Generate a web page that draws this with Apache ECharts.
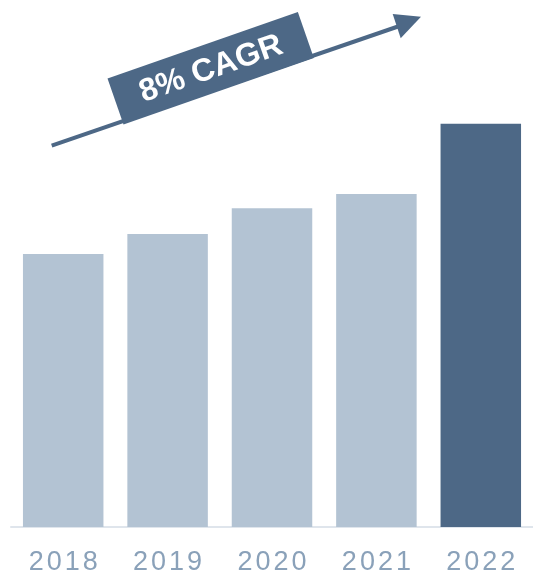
<!DOCTYPE html>
<html><head><meta charset="utf-8">
<script src="https://cdn.jsdelivr.net/npm/echarts@6/dist/echarts.min.js"></script>
<style>html,body{margin:0;padding:0;background:#fff}#c{width:533px;height:577px}</style>
</head><body><div id="c"></div>
<script>
const categories = ['2018', '2019', '2020', '2021', '2022'];
const values = [51.8, 55.6, 60.5, 63.2, 76.5];
const highlightIndex = 4;
const cagrLabel = '8% CAGR';

const LIGHT = '#b3c3d3', DARK = '#4d6886';
const chart = echarts.init(document.getElementById('c'), null, {renderer: 'canvas'});
const ang = Math.atan2(145.7 - 16.7, 421 - 51.7);
chart.setOption({
  animation: false,
  grid: {left: 11, right: -2, top: 0, bottom: 50},
  xAxis: {
    type: 'category', data: categories,
    axisLine: {show: true, lineStyle: {color: '#dfe5ec', width: 2}},
    axisTick: {show: false},
    axisLabel: {
      interval: 0, hideOverlap: false,
      margin: 22, fontSize: 27, color: '#8aa1b9', fontFamily: 'Liberation Sans, Arial, sans-serif',
      formatter: v => v.split('').map(ch => '{d|' + ch + '}').join(''),
      rich: {d: {fontSize: 27, color: '#8aa1b9', padding: [0, 1.5], fontFamily: 'Liberation Sans, Arial, sans-serif'}}
    }
  },
  yAxis: {type: 'value', min: 0, max: 100, show: false, splitLine: {show: false}},
  series: [{
    type: 'bar', barCategoryGap: '22.9%',
    data: values.map((v, i) => ({value: v, itemStyle: {color: i === highlightIndex ? DARK : LIGHT}}))
  }],
  graphic: [
    {type: 'line', shape: {x1: 51.7, y1: 145.7, x2: 398, y2: 26.5}, style: {stroke: DARK, lineWidth: 4}},
    {type: 'polygon', shape: {points: [[421, 16.7], [392.7, 14], [400.7, 38.3]]}, style: {fill: DARK}},
    {type: 'group', x: 210.7, y: 68.3, rotation: ang, children: [
      {type: 'rect', shape: {x: -100.8, y: -24.3, width: 201.6, height: 48.5}, style: {fill: DARK}},
      {type: 'text', x: 0, y: 1, style: {text: cagrLabel, fill: '#fff', font: 'bold 32px "Liberation Sans", Arial, sans-serif', align: 'center', verticalAlign: 'middle'}}
    ]}
  ]
});
</script></body></html>
